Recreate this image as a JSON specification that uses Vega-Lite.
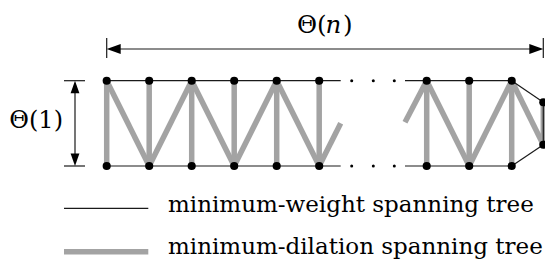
{
  "$schema": "https://vega.github.io/schema/vega-lite/v6.json",
  "width": 545,
  "height": 260,
  "padding": 0,
  "autosize": {"type": "none"},
  "config": {"view": {"stroke": null}},
  "datasets": {
    "gray": [
      {"x": 106.7, "y": 80.7, "x2": 106.7, "y2": 166},
      {"x": 106.7, "y": 80.7, "x2": 149.2, "y2": 166},
      {"x": 149.2, "y": 80.7, "x2": 149.2, "y2": 166},
      {"x": 149.2, "y": 166, "x2": 191.7, "y2": 80.7},
      {"x": 191.7, "y": 80.7, "x2": 191.7, "y2": 166},
      {"x": 191.7, "y": 80.7, "x2": 234.2, "y2": 166},
      {"x": 234.2, "y": 80.7, "x2": 234.2, "y2": 166},
      {"x": 234.2, "y": 166, "x2": 276.7, "y2": 80.7},
      {"x": 276.7, "y": 80.7, "x2": 276.7, "y2": 166},
      {"x": 276.7, "y": 80.7, "x2": 319.2, "y2": 166},
      {"x": 319.2, "y": 80.7, "x2": 319.2, "y2": 166},
      {"x": 319.2, "y": 166, "x2": 340.7, "y2": 123.3},
      {"x": 405, "y": 122.3, "x2": 426.7, "y2": 80.7},
      {"x": 426.7, "y": 80.7, "x2": 426.7, "y2": 166},
      {"x": 426.7, "y": 80.7, "x2": 469.2, "y2": 166},
      {"x": 469.2, "y": 80.7, "x2": 469.2, "y2": 166},
      {"x": 469.2, "y": 166, "x2": 511.7, "y2": 80.7},
      {"x": 511.7, "y": 80.7, "x2": 511.7, "y2": 166},
      {"x": 511.7, "y": 80.7, "x2": 543.3, "y2": 144.7},
      {"x": 543.3, "y": 102.3, "x2": 543.3, "y2": 144.7},
      {"x": 64, "y": 251.7, "x2": 148.3, "y2": 251.7}
    ],
    "black": [
      {"x": 106.7, "y": 80.7, "x2": 340.7, "y2": 80.7},
      {"x": 106.7, "y": 166, "x2": 340.7, "y2": 166},
      {"x": 405, "y": 80.7, "x2": 511.7, "y2": 80.7},
      {"x": 405, "y": 166, "x2": 511.7, "y2": 166},
      {"x": 511.7, "y": 80.7, "x2": 543.3, "y2": 102.3},
      {"x": 511.7, "y": 166, "x2": 543.3, "y2": 144.7},
      {"x": 543.3, "y": 102.3, "x2": 543.3, "y2": 144.7},
      {"x": 64, "y": 80.7, "x2": 85, "y2": 80.7},
      {"x": 64, "y": 166, "x2": 85, "y2": 166},
      {"x": 75, "y": 85, "x2": 75, "y2": 162},
      {"x": 106.7, "y": 38, "x2": 106.7, "y2": 58},
      {"x": 543.3, "y": 38, "x2": 543.3, "y2": 58},
      {"x": 110, "y": 49, "x2": 540, "y2": 49},
      {"x": 64, "y": 208.3, "x2": 148.3, "y2": 208.3}
    ],
    "nodes": [
      {"x": 106.7, "y": 80.7}, {"x": 149.2, "y": 80.7}, {"x": 191.7, "y": 80.7},
      {"x": 234.2, "y": 80.7}, {"x": 276.7, "y": 80.7}, {"x": 319.2, "y": 80.7},
      {"x": 426.7, "y": 80.7}, {"x": 469.2, "y": 80.7}, {"x": 511.7, "y": 80.7},
      {"x": 106.7, "y": 166}, {"x": 149.2, "y": 166}, {"x": 191.7, "y": 166},
      {"x": 234.2, "y": 166}, {"x": 276.7, "y": 166}, {"x": 319.2, "y": 166},
      {"x": 426.7, "y": 166}, {"x": 469.2, "y": 166}, {"x": 511.7, "y": 166},
      {"x": 543.3, "y": 102.3}, {"x": 543.3, "y": 144.7}
    ],
    "dots": [
      {"x": 351.7, "y": 80.7}, {"x": 373.3, "y": 80.7}, {"x": 394.3, "y": 80.7},
      {"x": 351.7, "y": 166}, {"x": 373.3, "y": 166}, {"x": 394.3, "y": 166}
    ],
    "arrows": [
      {"x": 113.7, "y": 49, "dir": "left"},
      {"x": 536.3, "y": 49, "dir": "right"},
      {"x": 75, "y": 87, "dir": "up"},
      {"x": 75, "y": 159.7, "dir": "down"}
    ],
    "rightLabels": [
      {"x": 63, "y": 127.5, "label": "Θ(1)"}
    ],
    "thetaLabels": [
      {"x": 297, "y": 33, "label": "Θ("},
      {"x": 343, "y": 33, "label": ")"}
    ],
    "legendLabels": [
      {"x": 168, "y": 211.5, "label": "minimum-weight spanning tree"},
      {"x": 168, "y": 253.5, "label": "minimum-dilation spanning tree"}
    ],
    "italic": [
      {"x": 325.5, "y": 33, "label": "n"}
    ]
  },
  "layer": [
    {
      "data": {"name": "gray"},
      "mark": {"type": "rule", "color": "#a3a3a3", "strokeWidth": 5.5, "strokeCap": "butt"},
      "encoding": {
        "x": {"field": "x", "type": "quantitative", "scale": {"domain": [0, 545], "nice": false, "zero": false}, "axis": null},
        "y": {"field": "y", "type": "quantitative", "scale": {"domain": [0, 260], "nice": false, "zero": false, "reverse": true}, "axis": null},
        "x2": {"field": "x2"},
        "y2": {"field": "y2"}
      }
    },
    {
      "data": {"name": "black"},
      "mark": {"type": "rule", "color": "#1a1a1a", "strokeWidth": 1.2},
      "encoding": {
        "x": {"field": "x", "type": "quantitative"},
        "y": {"field": "y", "type": "quantitative"},
        "x2": {"field": "x2"},
        "y2": {"field": "y2"}
      }
    },
    {
      "data": {"name": "nodes"},
      "mark": {"type": "circle", "color": "#000000", "opacity": 1, "size": 66},
      "encoding": {
        "x": {"field": "x", "type": "quantitative"},
        "y": {"field": "y", "type": "quantitative"}
      }
    },
    {
      "data": {"name": "dots"},
      "mark": {"type": "circle", "color": "#000000", "opacity": 1, "size": 9},
      "encoding": {
        "x": {"field": "x", "type": "quantitative"},
        "y": {"field": "y", "type": "quantitative"}
      }
    },
    {
      "data": {"name": "arrows"},
      "mark": {"type": "point", "filled": true, "color": "#000000", "opacity": 1, "size": 196},
      "encoding": {
        "x": {"field": "x", "type": "quantitative"},
        "y": {"field": "y", "type": "quantitative"},
        "shape": {
          "field": "dir",
          "type": "nominal",
          "legend": null,
          "scale": {
            "domain": ["left", "right", "up", "down"],
            "range": ["M-1,0L1,-0.714L1,0.714Z", "M1,0L-1,-0.714L-1,0.714Z", "M0,-0.9L-0.63,0.9L0.63,0.9Z", "M0,0.9L-0.63,-0.9L0.63,-0.9Z"]
          }
        }
      }
    },
    {
      "data": {"name": "rightLabels"},
      "mark": {"type": "text", "font": "DejaVu Serif", "fontSize": 24, "align": "right", "baseline": "alphabetic", "color": "#000000"},
      "encoding": {
        "x": {"field": "x", "type": "quantitative"},
        "y": {"field": "y", "type": "quantitative"},
        "text": {"field": "label"}
      }
    },
    {
      "data": {"name": "thetaLabels"},
      "mark": {"type": "text", "font": "DejaVu Serif", "fontSize": 24.5, "align": "left", "baseline": "alphabetic", "color": "#000000"},
      "encoding": {
        "x": {"field": "x", "type": "quantitative"},
        "y": {"field": "y", "type": "quantitative"},
        "text": {"field": "label"}
      }
    },
    {
      "data": {"name": "legendLabels"},
      "mark": {"type": "text", "font": "DejaVu Serif", "fontSize": 23, "align": "left", "baseline": "alphabetic", "color": "#000000"},
      "encoding": {
        "x": {"field": "x", "type": "quantitative"},
        "y": {"field": "y", "type": "quantitative"},
        "text": {"field": "label"}
      }
    },
    {
      "data": {"name": "italic"},
      "mark": {"type": "text", "font": "DejaVu Serif", "fontSize": 24.5, "fontStyle": "italic", "align": "left", "baseline": "alphabetic", "color": "#000000"},
      "encoding": {
        "x": {"field": "x", "type": "quantitative"},
        "y": {"field": "y", "type": "quantitative"},
        "text": {"field": "label"}
      }
    }
  ]
}
